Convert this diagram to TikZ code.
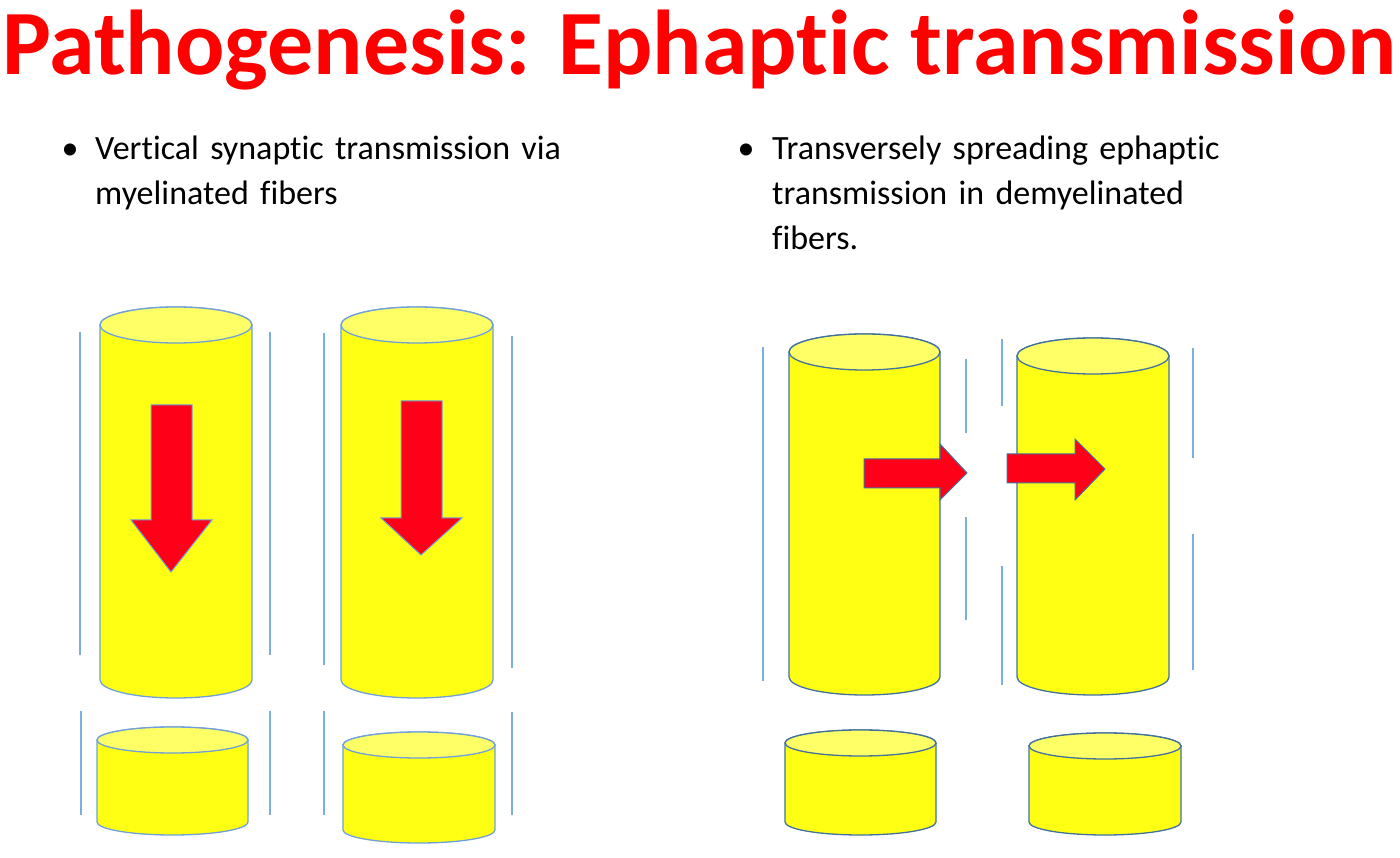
\documentclass[tikz,border=0pt]{standalone}
\usepackage{fontspec}
\setmainfont[Ligatures={NoCommon}]{Carlito}
\definecolor{cylfill}{HTML}{FFFF14}
\definecolor{cyltop}{HTML}{FFFF66}
\definecolor{edgeL}{HTML}{6FA0D8}
\definecolor{edgeR}{HTML}{41719C}
\definecolor{lineblue}{HTML}{7BAFE0}
\definecolor{arrowred}{HTML}{FF0019}
\definecolor{titlered}{HTML}{FF0000}
\tikzset{
  wall/.style={draw=lineblue,line width=1.3pt},
  redarrow/.style={fill=arrowred,draw=edgeL,line width=1pt,line join=miter},
  bullettext/.style={anchor=base west,font=\fontsize{34}{45}\selectfont,align=left,text width=600pt,inner sep=0pt}
}
% \cyl{color}{cx}{rx}{topcy}{botcy}{ry}
\newcommand{\cyl}[6]{%
  \path[fill=cylfill,draw=#1,line width=1.3pt]
    ({#2-#3},{857-#4}) -- ({#2-#3},{857-#5})
    arc[start angle=180,end angle=360,x radius=#3,y radius=#6]
    -- ({#2+#3},{857-#4})
    arc[start angle=0,end angle=180,x radius=#3,y radius=#6] -- cycle;
  \path[fill=cyltop,draw=#1,line width=1.3pt] (#2,{857-#4}) ellipse[x radius=#3,y radius=#6];
}
\begin{document}
\begin{tikzpicture}[x=1pt,y=1pt]
\useasboundingbox (0,0) rectangle (1400,857);
\node[anchor=base west,inner sep=0pt,text=titlered,font=\fontsize{92}{96}\selectfont\bfseries] (title) at (2,{857-75}) {Pathogenesis: Ephaptic transmission};
\node[anchor=base,font=\fontsize{34}{45}\selectfont] (b1) at (70,{857-160}) {•};
\node[bullettext] (t1) at (95,{857-160}) {Vertical synaptic transmission via\\ myelinated fibers};
\node[anchor=base,font=\fontsize{34}{45}\selectfont] (b2) at (746,{857-160}) {•};
\node[bullettext] (t2) at (772,{857-160}) {Transversely spreading ephaptic\\ transmission in demyelinated\\ fibers.};
% walls
\foreach \x/\a/\b in {80/332/655, 270/332/655, 324/333/665, 512/336/668, 81/711/815, 270/711/815, 324/711/815, 512/712/815,
  763/347/681, 966/359/433, 966/517/620, 1002/339/406, 1002/566/685, 1193/348/458, 1193/534/670}
  \draw[wall] (\x,{857-\a}) -- (\x,{857-\b});
% cylinders
\cyl{edgeL}{176}{76}{325}{680}{18}
\cyl{edgeL}{417}{76}{325}{680}{18}
\cyl{edgeL}{172.5}{75.5}{740}{822}{13}
\cyl{edgeL}{419}{76}{745}{830}{13}
\cyl{edgeR}{864.5}{75.5}{352}{677}{18}
\cyl{edgeR}{1093}{76}{356}{677}{18}
\cyl{edgeR}{860.5}{75.5}{743}{822}{13}
\cyl{edgeR}{1105}{76}{746}{822}{13}
% arrows
\path[redarrow] (151,{857-405}) -- (192,{857-405}) -- (192,{857-520}) -- (212,{857-520}) -- (171,{857-572}) -- (131,{857-520}) -- (151,{857-520}) -- cycle;
\path[redarrow] (401,{857-401}) -- (442,{857-401}) -- (442,{857-518}) -- (462,{857-518}) -- (421,{857-555}) -- (381,{857-518}) -- (401,{857-518}) -- cycle;
\path[redarrow,draw=edgeR] (864,{857-459}) -- (940,{857-459}) -- (940,{857-444}) -- (967,{857-473}) -- (940,{857-500}) -- (940,{857-488}) -- (864,{857-488}) -- cycle;
\path[redarrow,draw=edgeR] (1007,{857-454}) -- (1075,{857-454}) -- (1075,{857-439}) -- (1105,{857-469}) -- (1075,{857-500}) -- (1075,{857-483}) -- (1007,{857-483}) -- cycle;
\end{tikzpicture}
\end{document}
